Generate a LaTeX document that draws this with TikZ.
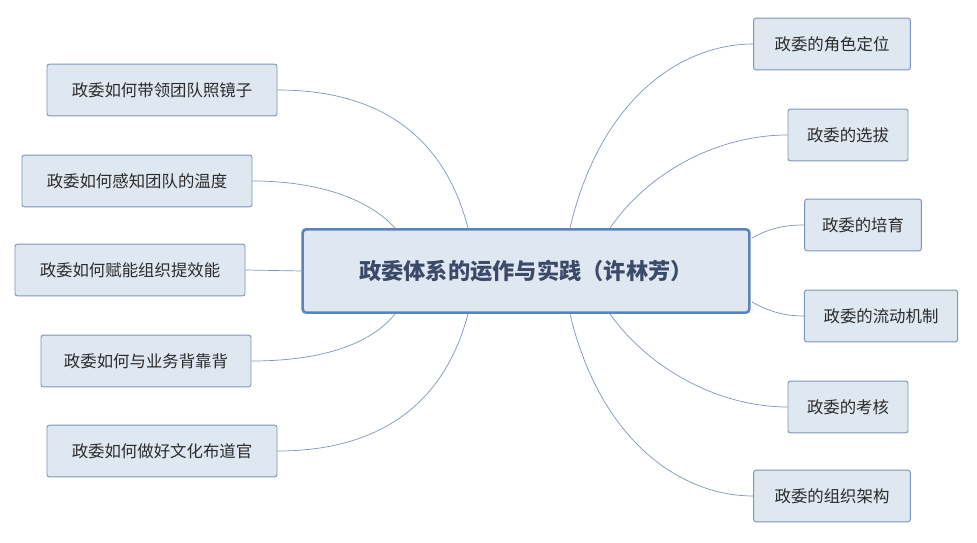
\documentclass[tikz,border=0pt]{standalone}
\usepackage{fontspec}
\newfontfamily\cjk{Noto Sans CJK SC}
\definecolor{boxfill}{HTML}{DFE7F1}
\definecolor{boxline}{HTML}{7D95B8}
\definecolor{mainline}{HTML}{5B84BC}
\definecolor{txt}{HTML}{2B2B2B}
\definecolor{maintxt}{HTML}{3A4A68}
\tikzset{
  topic/.style={draw=boxline, fill=boxfill, rounded corners=2pt, line width=0.8pt,
    font=\cjk\fontsize{14}{16}\selectfont, text=txt, minimum height=1.55cm, inner xsep=8pt},
  maintopic/.style={draw=mainline, fill=boxfill, rounded corners=3pt, line width=2.2pt,
    font=\cjk\bfseries\fontsize{19}{22}\selectfont, text=maintxt, minimum width=13.4cm, minimum height=2.5cm},
  link/.style={draw=boxline, line width=0.6pt}
}
\begin{document}
\begin{tikzpicture}[x=0.03cm,y=-0.03cm]
	\useasboundingbox (0,0) rectangle (977,543);
	%centre
	\node[maintopic] (main) at (526,271) {政委体系的运作与实践（许林芳）};
	%left branches
	\node[topic, minimum width=6.9cm] (l1) at (162,90)  {政委如何带领团队照镜子};
	\node[topic, minimum width=6.9cm] (l2) at (137,181) {政委如何感知团队的温度};
	\node[topic, minimum width=6.9cm] (l3) at (130,270) {政委如何赋能组织提效能};
	\node[topic, minimum width=6.3cm] (l4) at (146,361) {政委如何与业务背靠背};
	\node[topic, minimum width=6.9cm] (l5) at (162,451) {政委如何做好文化布道官};
	%right branches
	\node[topic, minimum width=4.7cm] (r1) at (832,44)  {政委的角色定位};
	\node[topic, minimum width=3.6cm] (r2) at (848,135) {政委的选拔};
	\node[topic, minimum width=3.5cm] (r3) at (863,225) {政委的培育};
	\node[topic, minimum width=4.6cm] (r4) at (881,316) {政委的流动机制};
	\node[topic, minimum width=3.6cm] (r5) at (848,407) {政委的考核};
	\node[topic, minimum width=4.7cm] (r6) at (832,496) {政委的组织架构};
	%anchors on the main box
	\coordinate (a1) at (468,228);
	\coordinate (a2) at (395,228);
	\coordinate (a4) at (395,314);
	\coordinate (a5) at (468,314);
	\coordinate (b1) at (570,228);
	\coordinate (b2) at (610,228);
	\coordinate (b3) at (752,238);
	\coordinate (b4) at (752,302);
	\coordinate (b5) at (610,314);
	\coordinate (b6) at (570,314);
	%links
	\draw[link] (a1) .. controls (440,120) and (360,90) .. (l1.east);
	\draw[link] (a2) .. controls (370,200) and (320,181) .. (l2.east);
	\draw[link] (main.west) -- (l3.east);
	\draw[link] (a4) .. controls (370,345) and (320,361) .. (l4.east);
	\draw[link] (a5) .. controls (440,420) and (360,451) .. (l5.east);
	\draw[link] (b1) .. controls (600,100) and (680,44) .. (r1.west);
	\draw[link] (b2) .. controls (650,170) and (720,135) .. (r2.west);
	\draw[link] (b3) .. controls (770,228) and (785,225) .. (r3.west);
	\draw[link] (b4) .. controls (770,312) and (785,316) .. (r4.west);
	\draw[link] (b5) .. controls (650,370) and (720,407) .. (r5.west);
	\draw[link] (b6) .. controls (600,440) and (680,496) .. (r6.west);
\end{tikzpicture}
\end{document}
